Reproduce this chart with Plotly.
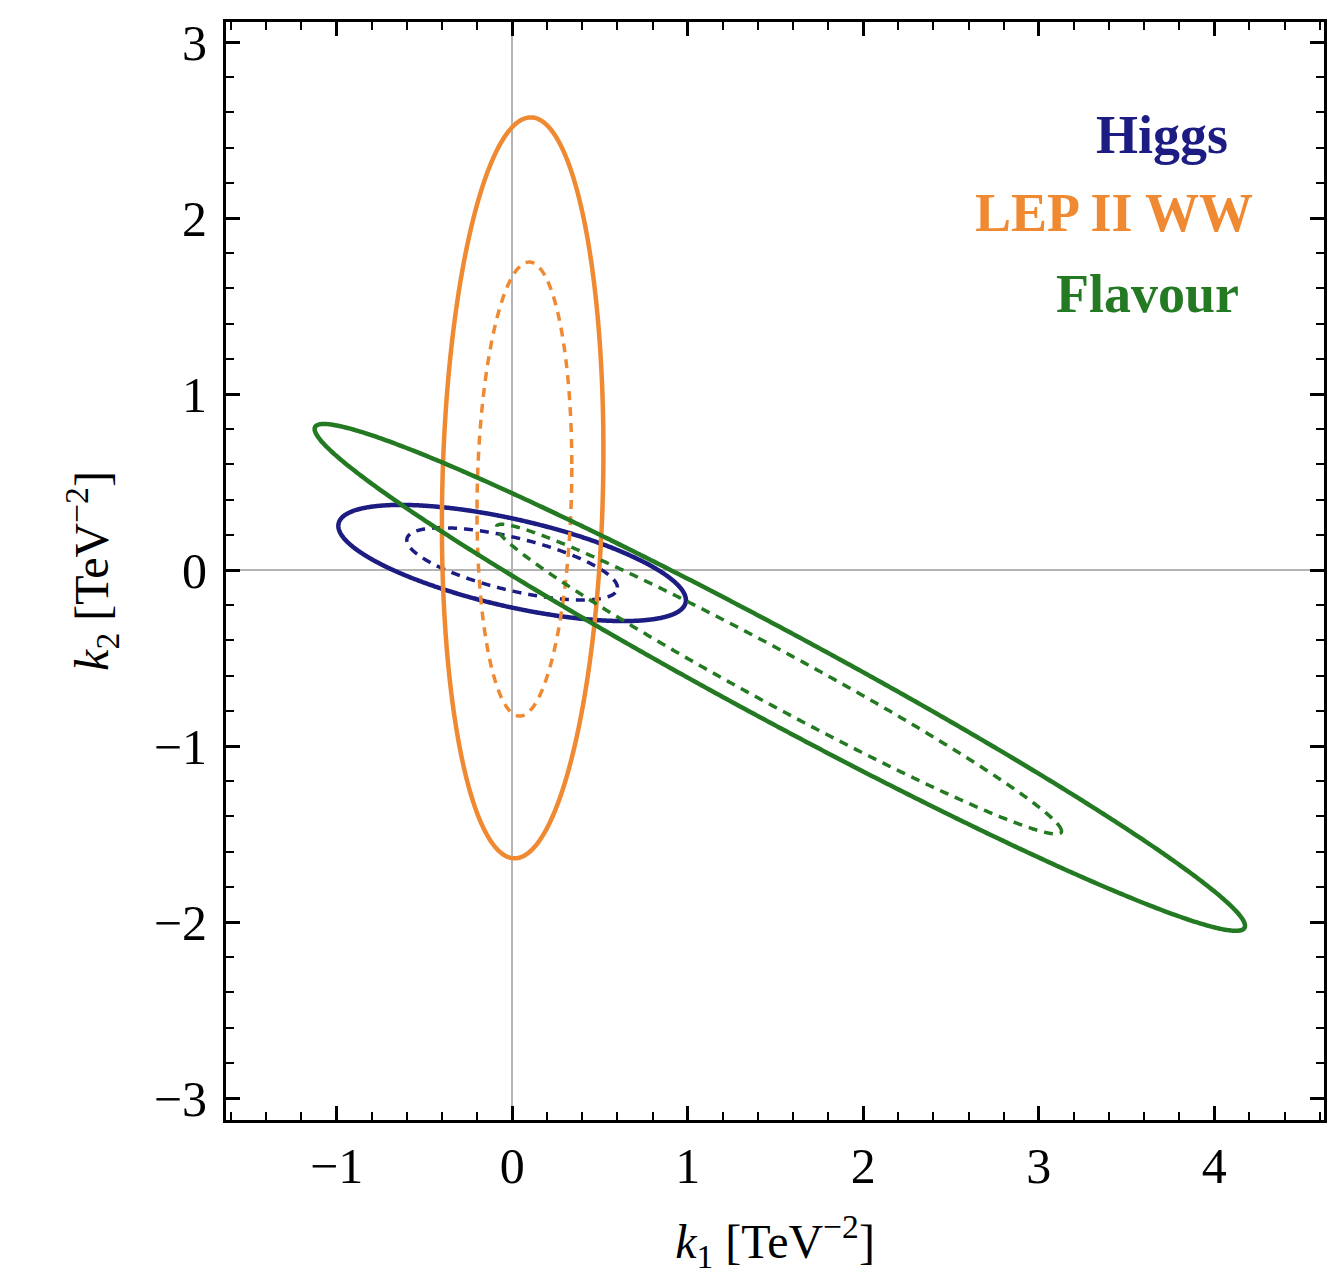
import numpy as np
import plotly.graph_objects as go

# Ellipse parameters (data units)
names      = ["Higgs", "Higgs", "LEP II WW", "LEP II WW", "Flavour", "Flavour"]
styles     = ["solid", "dashed", "solid", "dashed", "solid", "dashed"]
center_x   = [0.00, 0.00, 0.06, 0.07, 1.525, 1.52]
center_y   = [0.04, 0.035, 0.467, 0.46, -0.61, -0.62]
half_w     = [0.99, 0.60, 0.46, 0.27, 2.65, 1.61]   # max x extent from center
half_h     = [0.33, 0.205, 2.105, 1.29, 1.44, 0.88]  # max y extent from center
corr       = [-0.64, -0.66, 0.10, 0.10, -0.98, -0.981]

colors = {"Higgs": "#1c1c82", "LEP II WW": "#ef8a33", "Flavour": "#237a23"}

legend_labels = ["Higgs", "LEP II WW", "Flavour"]
legend_x = [4.09, 4.23, 4.15]
legend_y = [2.47, 2.03, 1.57]

x_ticks = [-1, 0, 1, 2, 3, 4]
y_ticks = [-3, -2, -1, 0, 1, 2, 3]

fig = go.Figure()
t = np.linspace(0, 2 * np.pi, 600)
for n, s, cx, cy, wx, wy, r in zip(names, styles, center_x, center_y, half_w, half_h, corr):
    xs = cx + wx * np.cos(t)
    ys = cy + wy * (r * np.cos(t) + np.sqrt(1 - r * r) * np.sin(t))
    fig.add_trace(go.Scatter(
        x=xs, y=ys, mode="lines", name=n, showlegend=False,
        line=dict(color=colors[n], width=4.5 if s == "solid" else 3.5,
                  dash="solid" if s == "solid" else "9px,7px", shape="spline"),
        hoverinfo="skip"))

for lab, lx, ly in zip(legend_labels, legend_x, legend_y):
    fig.add_annotation(x=lx, y=ly, xref="x", yref="y", text="<b>%s</b>" % lab,
                       showarrow=False, xanchor="right", yanchor="middle",
                       font=dict(family="Liberation Serif", size=54, color=colors[lab]))

axis_common = dict(
    showgrid=False, zeroline=True, zerolinecolor="#b4b4b4", zerolinewidth=1.5,
    showline=True, linecolor="black", linewidth=3, mirror="allticks",
    ticks="inside", ticklen=14, tickwidth=2.5, tickcolor="black",
    minor=dict(ticks="inside", ticklen=8, tickwidth=2, tickcolor="black", dtick=0.2),
    tickfont=dict(family="Liberation Serif", size=50, color="black"),
)

fig.update_xaxes(range=[-1.63, 4.625], tickvals=x_ticks, ticklabelstandoff=0,
                 title=dict(text="<i>k</i><sub>1</sub> [TeV<sup>−2</sup>]",
                            font=dict(family="Liberation Serif", size=48, color="black"),
                            standoff=32),
                 **axis_common)
fig.update_yaxes(range=[-3.125, 3.114], tickvals=y_ticks, ticklabelstandoff=6,
                 title=dict(text="<i>k</i><sub>2</sub> [TeV<sup>−2</sup>]",
                            font=dict(family="Liberation Serif", size=48, color="black"),
                            standoff=30),
                 **axis_common)

fig.update_layout(
    width=1338, height=1284,
    margin=dict(l=226, r=11, t=22, b=164),
    plot_bgcolor="white", paper_bgcolor="white",
)

fig.write_html("out.html")
